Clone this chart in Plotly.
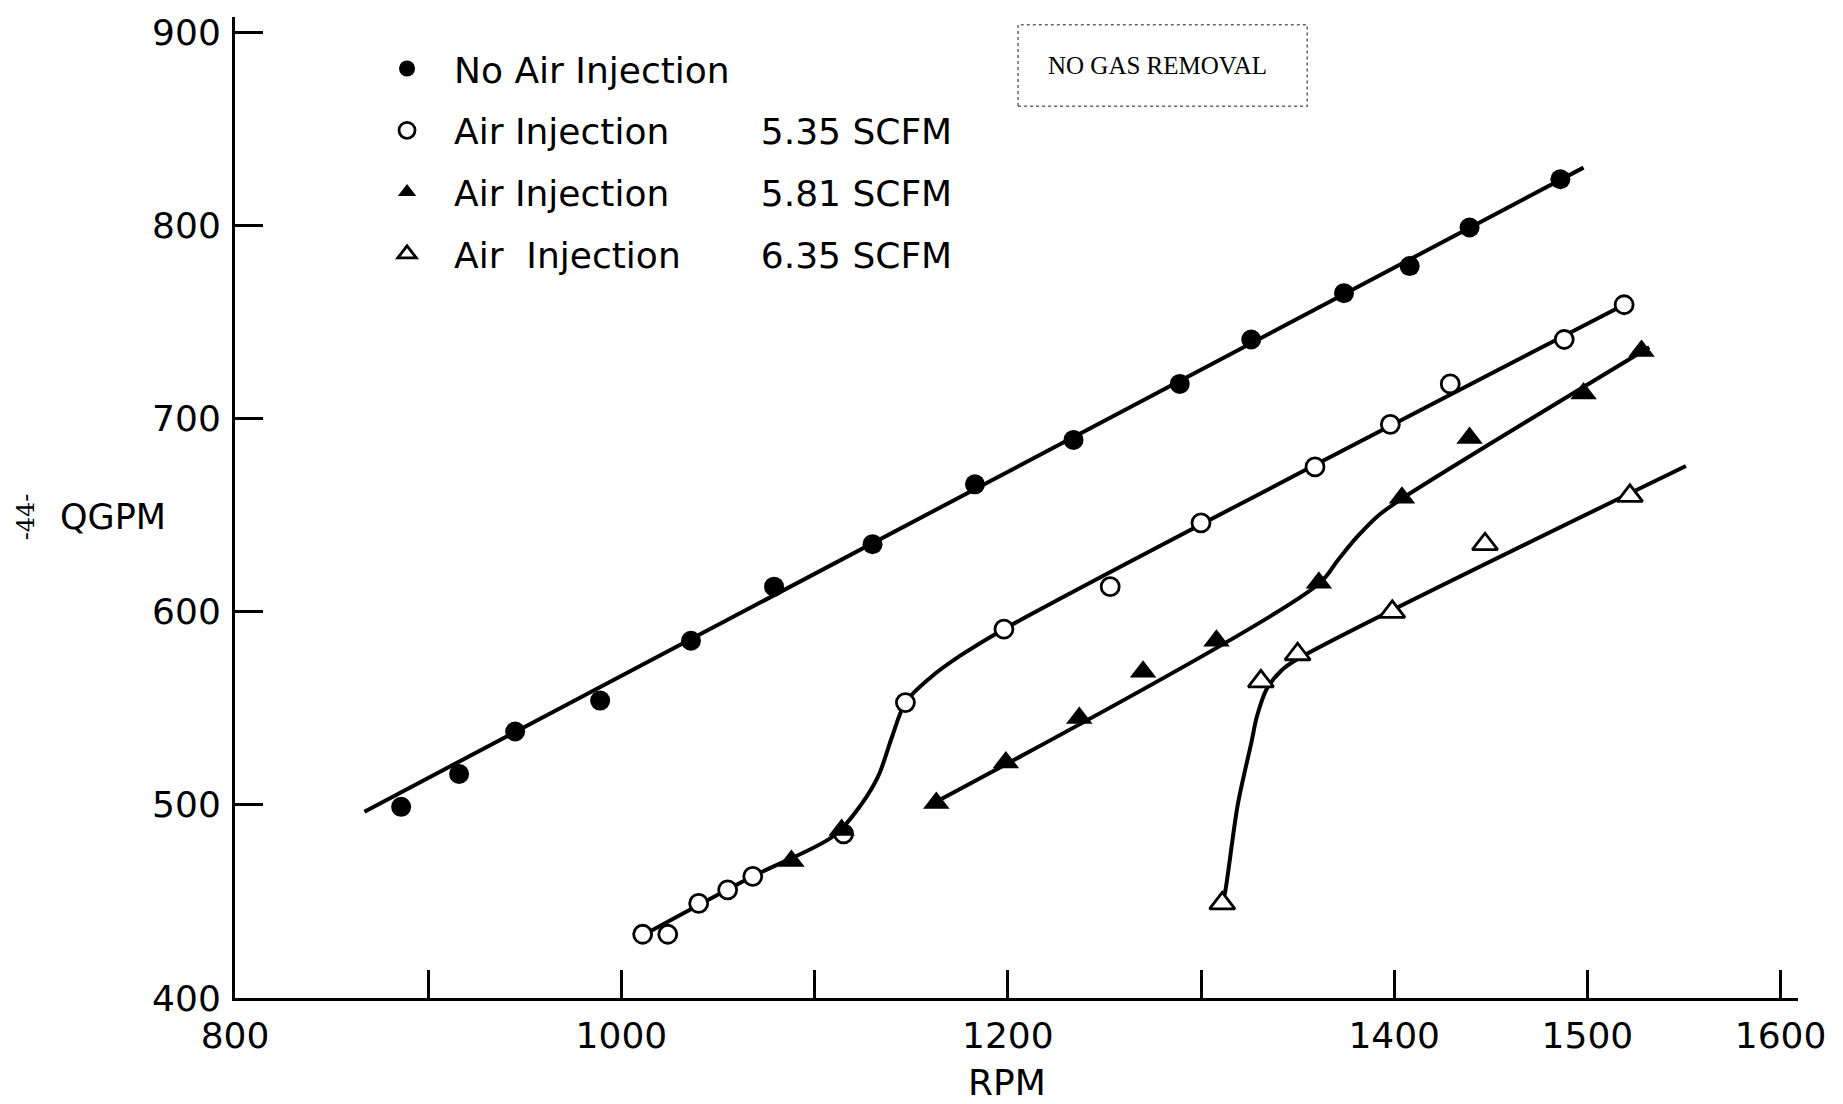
import plotly.graph_objects as go

# ---------------- data ----------------
# No air injection (filled circles)
no_air_rpm = [886, 916, 945, 989, 1036, 1079, 1130, 1183, 1234, 1289, 1326, 1374, 1408, 1439, 1486]
no_air_q = [499, 516, 538, 554, 585, 613, 635, 666, 689, 718, 741, 765, 779, 799, 824]
no_air_fit_rpm = [867, 1498]
no_air_fit_q = [496.5, 830]

# Air injection 5.35 SCFM (open circles)
air535_rpm = [1011, 1024, 1040, 1055, 1068, 1115, 1147, 1198, 1253, 1300, 1359, 1398, 1429, 1488, 1519]
air535_q = [433, 433, 449, 456, 463, 485, 553, 591, 613, 646, 675, 697, 718, 741, 759]
air535_fit_rpm = [1014, 1068, 1110, 1124, 1133, 1140, 1147, 1160, 1175, 1198, 1521]
air535_fit_q = [434, 463, 484, 500, 515, 535, 553, 566, 577, 591, 760]

# Air injection 5.81 SCFM (filled triangles)
air581_rpm = [1088, 1114, 1163, 1199, 1237, 1270, 1308, 1361, 1404, 1439, 1498, 1528]
air581_q = [471, 487, 501, 522, 545, 569, 585, 615, 659, 690, 713, 735]
air581_fit_rpm = [1159, 1361, 1371, 1381, 1392, 1404, 1532]
air581_fit_q = [499.5, 614.5, 627, 639, 650, 658.6, 737]

# Air injection 6.35 SCFM (open triangles)
air635_rpm = [1311, 1331, 1350, 1399, 1447, 1522]
air635_q = [449, 564, 578, 600, 635, 660]
air635_fit_rpm = [1311, 1312.5, 1319, 1326, 1329, 1334, 1341.5, 1350, 1551]
air635_fit_q = [449, 455, 500, 532, 546, 560, 569.5, 575.5, 675.5]

x_tick_vals = [800, 900, 1000, 1100, 1200, 1300, 1400, 1500, 1600]
x_tick_text = ["800", "", "1000", "", "1200", "", "1400", "1500", "1600"]
y_tick_vals = [400, 500, 600, 700, 800, 900]
y_tick_text = ["400", "500", "600", "700", "800", "900"]

legend_names = [
    "No Air Injection",
    "Air Injection" + "\u00a0" * 8 + "5.35 SCFM",
    "Air Injection" + "\u00a0" * 8 + "5.81 SCFM",
    "Air\u00a0\u00a0Injection" + "\u00a0" * 7 + "6.35 SCFM",
]

FONT = "DejaVu Sans"
fig = go.Figure()

line_style = dict(color="black", width=4)
for rx, qy in [(no_air_fit_rpm, no_air_fit_q), (air535_fit_rpm, air535_fit_q),
               (air581_fit_rpm, air581_fit_q), (air635_fit_rpm, air635_fit_q)]:
    fig.add_trace(go.Scatter(x=rx, y=qy, mode="lines", line=dict(shape="spline", smoothing=0.9, **line_style),
                             showlegend=False, hoverinfo="skip"))

marker_sets = [
    (no_air_rpm, no_air_q, dict(symbol="circle", size=20, color="black", line=dict(color="black", width=0))),
    (air535_rpm, air535_q, dict(symbol="circle", size=18, color="white", line=dict(color="black", width=2.8))),
    (air581_rpm, air581_q, dict(symbol="triangle-up", size=23, color="black", line=dict(color="black", width=0))),
    (air635_rpm, air635_q, dict(symbol="triangle-up", size=22, color="white", line=dict(color="black", width=2.8))),
]
for i, (rx, qy, mk) in enumerate(marker_sets):
    fig.add_trace(go.Scatter(x=rx, y=qy, mode="markers", marker=mk, name=legend_names[i],
                             legendgroup=f"g{i}"))

fig.update_layout(
    width=1843, height=1104,
    margin=dict(l=235, r=45, t=12, b=106),
    paper_bgcolor="white", plot_bgcolor="white",
    font=dict(family=FONT, color="black", size=36),
    showlegend=True,
    legend=dict(x=0.08, y=0.978, xanchor="left", yanchor="top",
                font=dict(family=FONT, size=36, color="black"),
                itemwidth=84, traceorder="grouped", tracegroupgap=12,
                bgcolor="rgba(0,0,0,0)", borderwidth=0),
    xaxis=dict(range=[800, 1609], tickvals=x_tick_vals, ticktext=x_tick_text,
               ticks="inside", ticklen=28, tickwidth=3, tickcolor="black",
               showline=True, linewidth=3, linecolor="black", showgrid=False, zeroline=False,
               tickfont=dict(family=FONT, size=36, color="black"), ticklabelstandoff=4),
    yaxis=dict(range=[400, 908], tickvals=y_tick_vals, ticktext=y_tick_text,
               ticks="inside", ticklen=28, tickwidth=3, tickcolor="black",
               showline=True, linewidth=3, linecolor="black", showgrid=False, zeroline=False,
               tickfont=dict(family=FONT, size=36, color="black"), ticklabelstandoff=4),
)

fig.add_annotation(text="QGPM", xref="paper", yref="paper", x=-0.078, y=0.49,
                   xanchor="center", yanchor="middle",
                   showarrow=False, font=dict(family=FONT, size=35, color="black"))
fig.add_annotation(text="RPM", xref="paper", yref="paper", x=0.494, y=-0.086,
                   xanchor="center", yanchor="middle",
                   showarrow=False, font=dict(family=FONT, size=36, color="black"))
fig.add_annotation(text="-44-", xref="paper", yref="paper", x=-0.1337, y=0.49, textangle=-90,
                   xanchor="center", yanchor="middle",
                   showarrow=False, font=dict(family="DejaVu Serif", size=24, color="black"))
fig.add_annotation(text="NO GAS REMOVAL", xref="paper", yref="paper", x=0.5905, y=0.951,
                   xanchor="center", yanchor="middle",
                   showarrow=False, font=dict(family="Liberation Serif", size=25, color="black"))
fig.add_shape(type="rect", xref="paper", yref="paper", x0=0.501, x1=0.686, y0=0.909, y1=0.992,
              line=dict(color="#666666", width=1.5, dash="dot"))

fig.write_html("out.html")
